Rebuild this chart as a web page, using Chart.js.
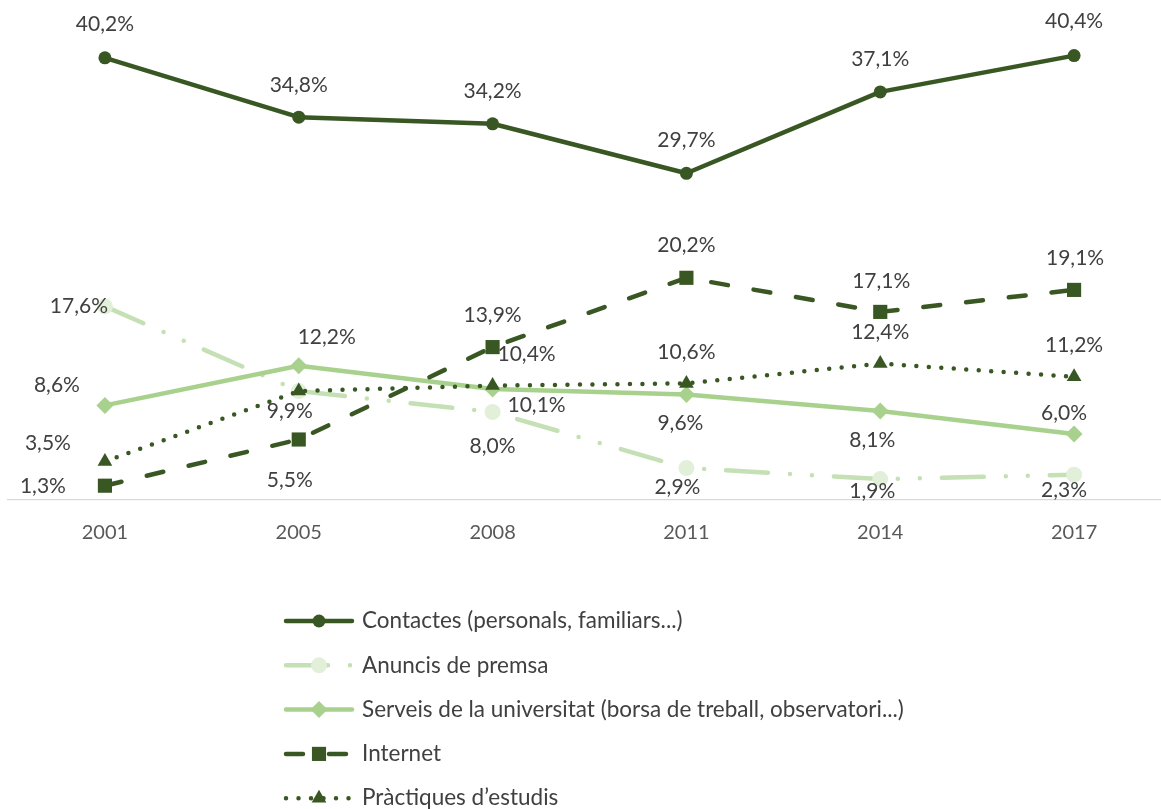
<!DOCTYPE html>
<html><head><meta charset="utf-8">
<script src="https://cdn.jsdelivr.net/npm/chart.js@4.4.1/dist/chart.umd.min.js"></script>
<style>html,body{margin:0;padding:0;background:#fff;overflow:hidden}#wrap{width:1180px;height:809px}</style>
</head><body><div id="wrap"><canvas id="c" width="1180" height="809"></canvas></div>
<script>
// ---- data ----
const years = ['2001', '2005', '2008', '2011', '2014', '2017'];
const contactes = [40.2, 34.8, 34.2, 29.7, 37.1, 40.4];
const anuncis = [17.6, 9.9, 8.0, 2.9, 1.9, 2.3];
const serveis = [8.6, 12.2, 10.1, 9.6, 8.1, 6.0];
const internet = [1.3, 5.5, 13.9, 20.2, 17.1, 19.1];
const practiques = [3.5, 9.9, 10.4, 10.6, 12.4, 11.2];
const seriesNames = [
  'Contactes (personals, familiars...)',
  'Anuncis de premsa',
  'Serveis de la universitat (borsa de treball, observatori...)',
  'Internet',
  'Pràctiques d\u2019estudis'
];

// ---- label placement (style) : [dx, dy] from marker, null = hidden ----
const labelOffsets = [
  [[0,-34],[0,-32],[0,-33],[0,-33],[0,-33],[0,-34]],
  [[-26,0],[-9,20],[0,34],[-9,19],[-8,12],[-10,16]],
  [[-48,-20],[28,-29],[44,16],[-6,29],[-8,29],[-10,-21]],
  [[-62,1],[-9,41],[0,-32],[0,-33],[1,-31],[1,-32]],
  [[-57,-18],null,[34,-31],[0,-31],[0,-31],[0,-32]]
];

const DARK = '#385723';
const FONT = 'Lato';

const datasets = [
  {label: seriesNames[0], data: contactes, borderColor: DARK, backgroundColor: DARK,
   borderWidth: 4.5, borderDash: [], pointStyle: 'circle', pointRadius: 6.5,
   pointBackgroundColor: DARK, order: 5},
  {label: seriesNames[1], data: anuncis, borderColor: '#C5E0B4', backgroundColor: '#E2F0D9',
   borderWidth: 4.5, borderDash: [42, 22, 0, 22, 0, 22], pointStyle: 'circle', pointRadius: 8,
   pointBackgroundColor: '#E2F0D9', order: 4},
  {label: seriesNames[2], data: serveis, borderColor: '#A9D18E', backgroundColor: '#A9D18E',
   borderWidth: 4.5, borderDash: [], pointStyle: 'rectRot', pointRadius: 8.5,
   pointBackgroundColor: '#A9D18E', order: 3},
  {label: seriesNames[3], data: internet, borderColor: DARK, backgroundColor: DARK,
   borderWidth: 4.5, borderDash: [17, 26], pointStyle: 'rect', pointRadius: 10,
   pointBackgroundColor: DARK, order: 2},
  {label: seriesNames[4], data: practiques, borderColor: DARK, backgroundColor: DARK,
   borderWidth: 4.5, borderDash: [0, 12.5], pointStyle: 'triangle', pointRadius: 8.5,
   pointBackgroundColor: DARK, order: 1}
];
datasets.forEach(d => {
  d.borderCapStyle = 'round';
  d.borderJoinStyle = 'round';
  d.pointBorderWidth = 0;
  d.pointHoverRadius = d.pointRadius;
  d.tension = 0;
  d.clip = false;
});

function fmt(v) { return v.toFixed(1).replace('.', ',') + '%'; }

const labelPlugin = {
  id: 'valueLabels',
  afterDatasetsDraw(chart) {
    const ctx = chart.ctx;
    ctx.save();
    ctx.font = '21px ' + FONT;
    ctx.fillStyle = '#404040';
    ctx.textAlign = 'center';
    ctx.textBaseline = 'middle';
    chart.data.datasets.forEach((ds, i) => {
      const meta = chart.getDatasetMeta(i);
      meta.data.forEach((pt, j) => {
        const off = labelOffsets[i][j];
        if (!off) return;
        ctx.fillText(fmt(ds.data[j]), pt.x + off[0], pt.y + off[1]);
      });
    });
    ctx.restore();
  }
};

const legendPlugin = {
  id: 'lineLegend',
  afterDraw(chart) {
    const ctx = chart.ctx;
    const x0 = 286, x1 = 352, mx = 319, tx = 362, y0 = 621, dy = 44.3;
    chart.data.datasets.forEach((ds, i) => {
      const y = y0 + i * dy;
      ctx.save();
      ctx.strokeStyle = ds.borderColor;
      ctx.lineWidth = ds.borderWidth;
      ctx.lineCap = 'round';
      ctx.setLineDash(ds.borderDash);
      ctx.beginPath();
      ctx.moveTo(x0, y);
      ctx.lineTo(x1, y);
      ctx.stroke();
      ctx.setLineDash([]);
      ctx.fillStyle = ds.pointBackgroundColor;
      Chart.helpers.drawPoint(ctx, {pointStyle: ds.pointStyle, radius: ds.pointRadius, borderWidth: 0, rotation: 0}, mx, y);
      ctx.font = '22.5px ' + FONT;
      ctx.fillStyle = '#404040';
      ctx.textAlign = 'left';
      ctx.textBaseline = 'middle';
      ctx.fillText(ds.label, tx, y);
      ctx.restore();
    });
  }
};

new Chart(document.getElementById('c'), {
  type: 'line',
  data: {labels: years, datasets: datasets},
  options: {
    responsive: false,
    animation: false,
    devicePixelRatio: 1,
    layout: {autoPadding: false, padding: {left: 8, right: 9, top: 5, bottom: 0}},
    plugins: {legend: {display: false}, tooltip: {enabled: false}},
    scales: {
      x: {
        offset: true,
        grid: {display: false, drawTicks: false},
        border: {display: true, color: '#D9D9D9', width: 1.3},
        ticks: {color: '#595959', font: {family: FONT, size: 20}, padding: 21},
        afterFit(s) { s.height = 309; }
      },
      y: {display: false, min: 0, max: 45}
    }
  },
  plugins: [labelPlugin, legendPlugin]
});
</script>
</body></html>
